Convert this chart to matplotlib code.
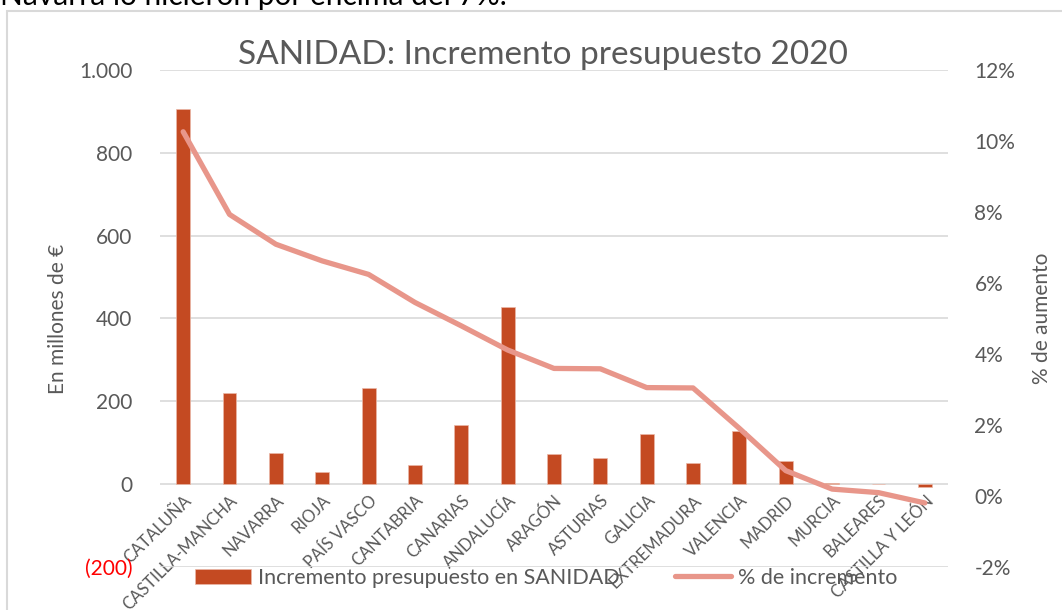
import numpy as np
import matplotlib
matplotlib.use('Agg')
import matplotlib.pyplot as plt
import matplotlib.patches as mpatches
from matplotlib.ticker import FuncFormatter

plt.rcParams['font.family'] = ['Lato', 'DejaVu Sans']

regiones = ['CATALUÑA', 'CASTILLA-MANCHA', 'NAVARRA', 'RIOJA', 'PAÍS VASCO',
            'CANTABRIA', 'CANARIAS', 'ANDALUCÍA', 'ARAGÓN', 'ASTURIAS',
            'GALICIA', 'EXTREMADURA', 'VALENCIA', 'MADRID', 'MURCIA',
            'BALEARES', 'CASTILLA Y LEÓN']
incremento = [905, 219, 75, 28, 233, 47, 142, 428, 72, 62,
              121, 50, 128, 56, 3, 0, -8]
pct_incremento = [10.26, 7.93, 7.09, 6.62, 6.24, 5.45, 4.79, 4.11, 3.59, 3.58,
                  3.05, 3.04, 1.90, 0.71, 0.19, 0.09, -0.20]

gris = '#595959'
c_bar = '#C44A22'
c_line = '#E8968A'

fig = plt.figure(figsize=(10.62, 6.10), dpi=100)
ax = fig.add_axes([160/1062, 1-566.8/610, 788/1062, 496.8/610])
ax2 = ax.twinx()

x = np.arange(len(regiones))
ax.bar(x, incremento, width=0.3, color=c_bar, edgecolor='#EBB8A8', linewidth=0.5, zorder=2,
       label='Incremento presupuesto en SANIDAD')
ax2.plot(x, pct_incremento, color=c_line, lw=3.8, solid_capstyle='round', solid_joinstyle='round',
         label='% de incremento')

ax.set_xlim(-0.5, len(regiones) - 0.5)
ax.set_ylim(-200, 1000)
ax.set_yticks(np.arange(-200, 1001, 200))
ax2.set_ylim(-2, 12)
ax2.set_yticks(np.arange(-2, 13, 2))

def fmt_left(v, pos):
    if v < 0:
        return '({:,.0f})'.format(-v).replace(',', '.')
    return '{:,.0f}'.format(v).replace(',', '.')

ax.yaxis.set_major_formatter(FuncFormatter(fmt_left))
ax2.yaxis.set_major_formatter(FuncFormatter(lambda v, p: '{:.0f}%'.format(v)))

ax.grid(axis='y', color='#D9D9D9', lw=1.2, zorder=0)
ax.set_axisbelow(True)
for a in (ax, ax2):
    for s in a.spines.values():
        s.set_visible(False)
    a.tick_params(length=0)
# eje de categorias en el cero, como en Excel
ax.spines['bottom'].set_position(('data', 0))

ax.tick_params(axis='y', labelsize=15, labelcolor=gris, pad=20)
ax2.tick_params(axis='y', labelsize=15, labelcolor=gris, pad=19)
for lab in ax.get_yticklabels():
    if lab.get_text().startswith('('):
        lab.set_color('red')

ax.set_xticks(x)
ax.set_xticklabels(regiones, rotation=45, ha='right', va='top', rotation_mode='anchor',
                   fontsize=12, color=gris)
ax.tick_params(axis='x', pad=6)

ax.set_ylabel('En millones de €', fontsize=15, color=gris, labelpad=8)
ax2.set_ylabel('% de aumento', fontsize=15, color=gris, labelpad=12)

fig.text(543/1062, 1-55/610, 'SANIDAD: Incremento presupuesto 2020', ha='center', va='center',
         fontsize=24, color=gris)

h1, l1 = ax.get_legend_handles_labels()
h2, l2 = ax2.get_legend_handles_labels()
fig.legend(h1 + h2, l1 + l2, loc='center', bbox_to_anchor=(546/1062, 1-578/610), ncol=2,
           frameon=False, fontsize=15.5, labelcolor=gris, handlelength=2.6, handletextpad=0.3,
           columnspacing=2.6)

# borde del grafico y texto del documento cortado arriba
fig.patches.append(mpatches.Rectangle((7/1062, -0.02), 1.1, 1-11/610+0.02, transform=fig.transFigure,
                                      fill=False, edgecolor='#D9D9D9', lw=1.5))
fig.text(0, 1-5/610, 'Navarra lo hicieron por encima del 7%.', ha='left', va='baseline',
         fontsize=21.5, color='black')

fig.savefig('out.png', dpi=100)
